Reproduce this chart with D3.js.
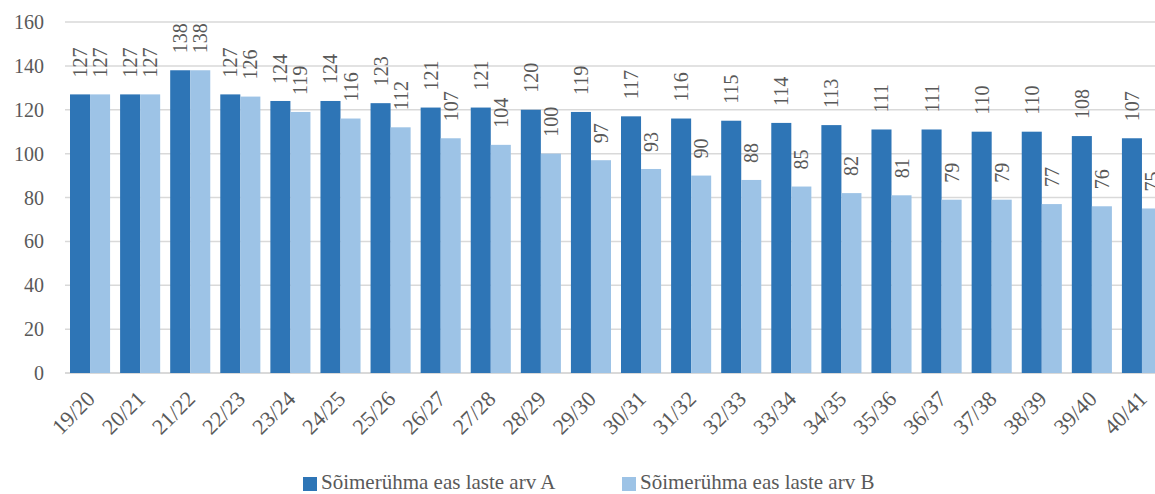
<!DOCTYPE html>
<html>
<head>
<meta charset="utf-8">
<script src="https://cdn.jsdelivr.net/npm/d3@7/dist/d3.min.js"></script>
<style>
  html, body { margin: 0; padding: 0; background: #fff; }
</style>
</head>
<body>
<svg id="chart" width="1155" height="494"></svg>
<script>
// School years
const categories = ["19/20","20/21","21/22","22/23","23/24","24/25","25/26","26/27","27/28","28/29","29/30",
  "30/31","31/32","32/33","33/34","34/35","35/36","36/37","37/38","38/39","39/40","40/41"];
// Number of children of nursery-group age, two scenarios
const seriesA = [127,127,138,127,124,124,123,121,121,120,119,117,116,115,114,113,111,111,110,110,108,107];
const seriesB = [127,127,138,126,119,116,112,107,104,100,97,93,90,88,85,82,81,79,79,77,76,75];
const seriesNames = ["Sõimerühma eas laste arv A", "Sõimerühma eas laste arv B"];
const yTicks = [0,20,40,60,80,100,120,140,160];

const colors = ["#2E75B6", "#9DC3E6"];
const textColor = "#595959";
const fontFamily = "'Liberation Serif', Tinos, 'Times New Roman', 'DejaVu Serif', serif";

const svg = d3.select("#chart").attr("font-family", fontFamily);

const x = d3.scaleBand().domain(categories).range([65, 1167]).paddingInner(0.2).paddingOuter(0.1);
const x1 = d3.scaleBand().domain([0, 1]).range([0, x.bandwidth()]);
const y = d3.scaleLinear().domain([0, 160]).range([373, 22]);

// Gridlines
svg.append("g").selectAll("line").data(yTicks).join("line")
  .attr("x1", 65).attr("x2", 1155)
  .attr("y1", d => y(d)).attr("y2", d => y(d))
  .attr("stroke", "#d9d9d9").attr("stroke-width", d => d === 0 ? 2 : 1.5);

// Y axis labels
svg.append("g").selectAll("text").data(yTicks).join("text")
  .attr("x", 44).attr("y", d => y(d))
  .attr("text-anchor", "end").attr("dominant-baseline", "central")
  .attr("font-family", fontFamily)
  .attr("fill", textColor).attr("font-size", 20)
  .text(d => d);

// Bars with rotated value labels
const series = [seriesA, seriesB];
series.forEach((vals, si) => {
  const g = svg.append("g");
  g.selectAll("rect").data(vals).join("rect")
    .attr("x", (d, i) => x(categories[i]) + x1(si))
    .attr("width", x1.bandwidth())
    .attr("y", d => y(d))
    .attr("height", d => y(0) - y(d))
    .attr("fill", colors[si]);
  g.selectAll("text").data(vals).join("text")
    .attr("transform", (d, i) => {
      const cx = x(categories[i]) + x1(si) + x1.bandwidth() / 2;
      return `translate(${cx},${y(d) - 17}) rotate(-90)`;
    })
    .attr("dominant-baseline", "central")
    .attr("text-anchor", "start")
    .attr("font-family", fontFamily)
    .attr("fill", textColor).attr("font-size", 20)
    .text(d => d);
});

// X axis labels
svg.append("g").selectAll("text").data(categories).join("text")
  .attr("transform", d => `translate(${x(d) + x.bandwidth() / 2 + 1},${395}) rotate(-45)`)
  .attr("text-anchor", "end").attr("dominant-baseline", "central")
  .attr("font-family", fontFamily)
  .attr("fill", textColor).attr("font-size", 22)
  .text(d => d);

// Legend
const legendX = [303, 622];
const lg = svg.append("g");
seriesNames.forEach((name, i) => {
  lg.append("rect").attr("x", legendX[i]).attr("y", 477).attr("width", 14).attr("height", 14).attr("fill", colors[i]);
  lg.append("text").attr("x", legendX[i] + 18).attr("y", 489)
    .attr("font-family", fontFamily)
    .attr("fill", textColor).attr("font-size", 21)
    .text(name);
});
</script>
</body>
</html>
